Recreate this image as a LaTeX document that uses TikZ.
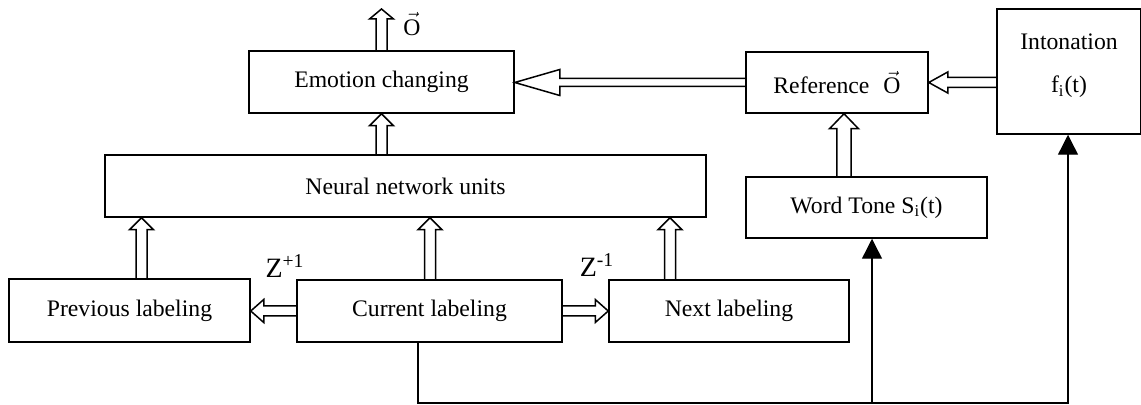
\documentclass[tikz,border=0pt]{standalone}
\usepackage{fontspec}
\setmainfont{Liberation Serif}
\usepackage{tikz}
\usetikzlibrary{arrows.meta,calc}

\tikzset{
	box/.style = {draw, line width=0.75pt, inner sep=0pt, align=center},
	hollow/.style = {draw, line width=0.75pt, line join=miter},
	feed/.style = {draw, line width=0.7pt, -{Triangle[length=10pt,width=10pt]}},
	zlabel/.style = {font=\fontsize{14pt}{16pt}\selectfont},
}

% open block arrow: from, to, half shaft, half head, head length
\newcommand{\hollowarrow}[5]{%
	\coordinate (ha-a) at (#1);
	\coordinate (ha-b) at (#2);
	\coordinate (ha-c) at ($(ha-b)!#5!(ha-a)$);
	\draw[hollow] ($(ha-a)!#3!90:(ha-b)$) -- ($(ha-c)!#3!90:(ha-b)$) -- ($(ha-c)!#4!90:(ha-b)$) -- (ha-b)
		-- ($(ha-c)!#4!-90:(ha-b)$) -- ($(ha-c)!#3!-90:(ha-b)$) -- ($(ha-a)!#3!-90:(ha-b)$);
}

\begin{document}
\begin{tikzpicture}[x=0.5pt,y=-0.5pt,font=\fontsize{11.85pt}{14pt}\selectfont]
	\useasboundingbox (0,0) rectangle (1141,405);

	\node[box, minimum width=132.5pt, minimum height=31pt] (emo) at (381.5,82) {Emotion changing};
	\node[box, minimum width=91pt, minimum height=30.5pt] (ref) at (837,82.5) {Reference\hspace{7pt}$\vec{\hbox{O}}$};
	\node[box, minimum width=72pt, minimum height=62.5pt] (into) at (1069,71.5) {Intonation\\[7.5pt]f\textsubscript{i}(t)\\[-6pt]\mbox{}};
	\node[box, minimum width=300.5pt, minimum height=31pt] (nn) at (405.5,186) {Neural network units};
	\node[box, minimum width=120.5pt, minimum height=30.5pt] (wt) at (866.5,207.5) {Word Tone S\textsubscript{i}(t)};
	\node[box, minimum width=120.5pt, minimum height=31.5pt] (prev) at (129.5,310.5) {Previous labeling};
	\node[box, minimum width=132.5pt, minimum height=31pt] (cur) at (429.5,311) {Current labeling};
	\node[box, minimum width=120pt, minimum height=31pt] (next) at (729,311) {Next labeling};

	\coordinate (out) at (381.5,9);
	\node (olab) at (412,24) {$\vec{\hbox{O}}$};
	\node[zlabel] (zp) at (285,266) {Z\textsuperscript{+1}};
	\node[zlabel] (zm) at (597,265) {Z\textsuperscript{-1}};

	\hollowarrow{emo.north}{out}{2.75pt}{6pt}{5pt}
	\hollowarrow{nn.north -| emo.south}{emo.south}{2.75pt}{6pt}{6pt}
	\hollowarrow{prev.north -| 141.5,0}{nn.south -| 141.5,0}{2.75pt}{6pt}{6pt}
	\hollowarrow{cur.north -| 430,0}{nn.south -| 430,0}{2.75pt}{6pt}{6pt}
	\hollowarrow{next.north -| 670,0}{nn.south -| 670,0}{2.75pt}{6pt}{6pt}
	\hollowarrow{cur.west}{prev.east |- cur.west}{2.5pt}{5.75pt}{6.5pt}
	\hollowarrow{cur.east}{next.west |- cur.east}{2.5pt}{5.75pt}{6.5pt}
	\hollowarrow{ref.west}{emo.east |- ref.west}{2pt}{6.5pt}{22.5pt}
	\hollowarrow{into.west |- ref.east}{ref.east}{2.5pt}{5.25pt}{9.5pt}
	\hollowarrow{wt.north -| 844,0}{ref.south -| 844,0}{3.6pt}{7.25pt}{7.5pt}

	% feedback from current labeling
	\coordinate (fbl) at (418,403);
	\coordinate (fbm) at (872,403);
	\coordinate (fbr) at (1068,403);
	\draw[feed] (cur.south -| fbl) -- (fbl) -- (fbr) -- (into.south -| fbr);
	\draw[feed] (fbm) -- (wt.south -| fbm);
\end{tikzpicture}
\end{document}
